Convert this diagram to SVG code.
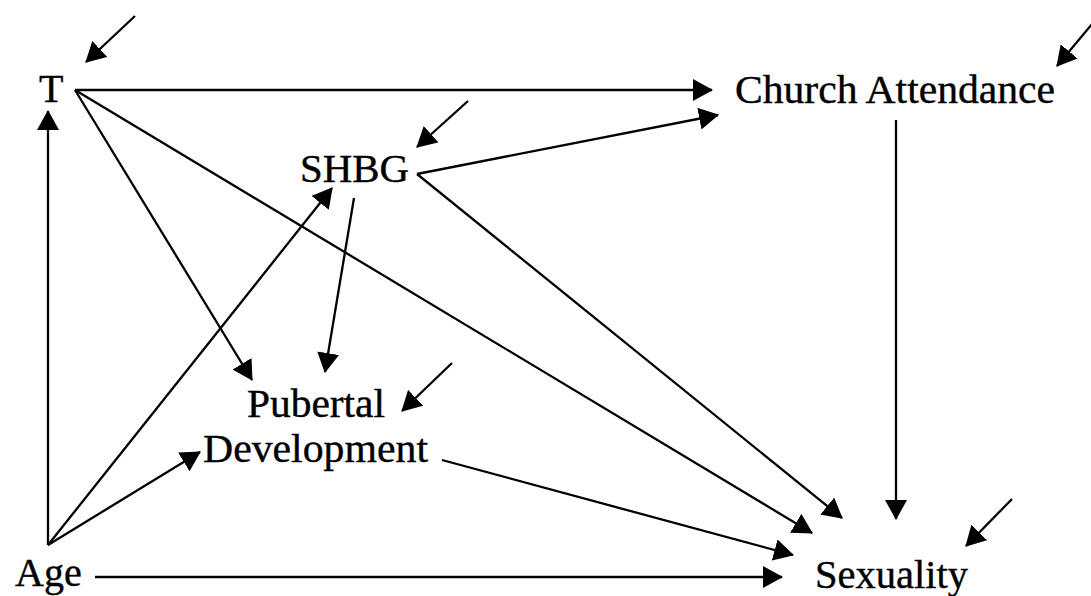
<svg xmlns="http://www.w3.org/2000/svg" width="1091" height="596" viewBox="0 0 1091 596">
<style>
  text { font-family: "Liberation Serif", "Times New Roman", serif; font-size: 40px; fill: #000; stroke: #000; stroke-width: 0.4px; }
  .c line { stroke: #000; stroke-width: 2.3; fill: none; marker-end: url(#ah); }
</style>
<defs>
  <marker id="ah" viewBox="0 0 20 22" refX="19" refY="11" markerWidth="20" markerHeight="22" markerUnits="userSpaceOnUse" orient="auto">
    <path d="M0,0 L20,11 L0,22 z" fill="#000"/>
  </marker>
</defs>
<rect width="1091" height="596" fill="#fff"/>
<g id="node-T"><text x="39" y="102">T</text></g>
<g id="node-church"><text x="735" y="103" textLength="320" lengthAdjust="spacingAndGlyphs">Church Attendance</text></g>
<g id="node-shbg"><text x="300" y="182" textLength="109" lengthAdjust="spacingAndGlyphs">SHBG</text></g>
<g id="node-pubertal"><text x="247" y="417" textLength="138" lengthAdjust="spacingAndGlyphs">Pubertal</text><text x="203" y="462" textLength="225" lengthAdjust="spacingAndGlyphs">Development</text></g>
<g id="node-age"><text x="15" y="586">Age</text></g>
<g id="node-sexuality"><text x="815" y="588" textLength="153" lengthAdjust="spacingAndGlyphs">Sexuality</text></g>
<g id="connectors" class="c">
  <line x1="48" y1="545" x2="48" y2="111"/>
  <line x1="75" y1="90" x2="712" y2="90"/>
  <line x1="75" y1="90" x2="252" y2="380"/>
  <line x1="75" y1="90" x2="812" y2="533"/>
  <line x1="417" y1="174" x2="718" y2="115"/>
  <line x1="417" y1="174" x2="842" y2="518"/>
  <line x1="354" y1="198" x2="325" y2="372"/>
  <line x1="48" y1="545" x2="332" y2="188"/>
  <line x1="48" y1="545" x2="200" y2="452"/>
  <line x1="442" y1="460" x2="793" y2="555"/>
  <line x1="95" y1="577" x2="782" y2="577"/>
  <line x1="896" y1="120" x2="896" y2="519"/>
  <line x1="135" y1="16" x2="86" y2="62"/>
  <line x1="468" y1="101" x2="417" y2="147"/>
  <line x1="1092" y1="24" x2="1057" y2="66"/>
  <line x1="452" y1="363" x2="402" y2="411"/>
  <line x1="1012" y1="499" x2="966" y2="546"/>
</g>
</svg>
